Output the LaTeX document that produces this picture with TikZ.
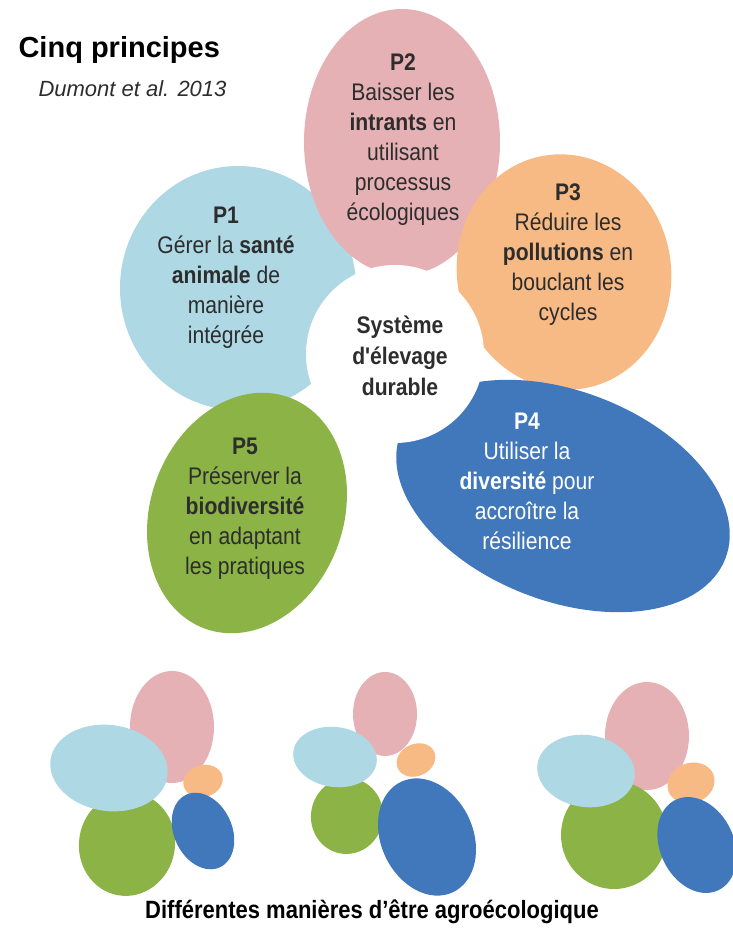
\documentclass[tikz,border=0pt]{standalone}
\usepackage{fontspec}
\setmainfont{Liberation Sans}
\newfontfamily\narrowfont{Liberation Sans}[FakeStretch=0.88]
\usetikzlibrary{shapes.geometric}
\definecolor{petpink}{RGB}{229,177,181}
\definecolor{petsky}{RGB}{173,216,228}
\definecolor{petorange}{RGB}{248,186,133}
\definecolor{petgreen}{RGB}{139,179,70}
\definecolor{petblue}{RGB}{64,120,187}
\definecolor{txtgray}{RGB}{45,45,45}

\begin{document}
\begin{tikzpicture}[
    x=1pt, y=-1pt,
    petal/.style={ellipse, inner sep=0pt, draw=none},
    ptext/.style={align=center, text=txtgray, inner sep=0pt,
      font=\narrowfont\fontsize{24}{30}\selectfont},
  ]

  \useasboundingbox (0,0) rectangle (732,929);

  % --- title ---
  \node[anchor=base west, font=\bfseries\fontsize{29}{34}\selectfont, text=black] (title) at (15,57) {Cinq principes};
  \node[anchor=base west, font=\itshape\fontsize{22}{26}\selectfont, text=txtgray] (ref) at (35,96) {Dumont et al. 2013};

  % --- big flower: petals ---
  \node[petal, fill=petsky, minimum width=236pt, minimum height=244pt] (p1) at (238,288) {};
  \node[petal, fill=petpink, minimum width=196pt, minimum height=266pt] (p2) at (402,142) {};
  \node[petal, fill=petorange, minimum width=214pt, minimum height=236pt, rotate=10] (p3) at (564,272) {};
  \node[petal, fill=petgreen, minimum width=193pt, minimum height=246pt, rotate=-20] (p5) at (247,513) {};
  \node[petal, fill=petblue, minimum width=348pt, minimum height=210pt, rotate=-21] (p4) at (563,496) {};
  \node[circle, fill=white, minimum size=178pt, inner sep=0pt] (core) at (395,354) {};

  % --- big flower: texts ---
  \node[ptext] (t1) at (226,278) {\textbf{P1}\\Gérer la \textbf{santé}\\\textbf{animale} de\\manière\\intégrée};
  \node[ptext] (t2) at (403,140) {\textbf{P2}\\Baisser les\\\textbf{intrants} en\\utilisant\\processus\\écologiques};
  \node[ptext] (t3) at (568,255) {\textbf{P3}\\Réduire les\\\textbf{pollutions} en\\bouclant les\\cycles};
  \node[ptext, text=white] (t4) at (527,481) {\textbf{P4}\\Utiliser la\\\textbf{diversité} pour\\accroître la\\résilience};
  \node[ptext] (t5) at (245,509) {\textbf{P5}\\Préserver la\\\textbf{biodiversité}\\en adaptant\\les pratiques};
  \node[ptext, font=\narrowfont\bfseries\fontsize{24}{31}\selectfont] (tc) at (400,356) {Système\\d'élevage\\durable};

  % --- small flowers ---
  \foreach \n/\c/\x/\y/\w/\h/\a in {
      a2/petpink/172/727/84/112/0, a5/petgreen/127/844/96/104/-10,
      a1/petsky/109/768/118/86/-8, a3/petorange/203/781/40/32/15,
      a4/petblue/203/831/58/80/25,
      b2/petpink/385/714/64/84/0, b5/petgreen/347/816/72/76/-10,
      b1/petsky/335/757/84/60/-8, b3/petorange/416/760/40/32/25,
      b4/petblue/427/837/92/122/25,
      c2/petpink/647/736/84/108/0, c5/petgreen/614/835/106/108/0,
      c1/petsky/586/771/98/72/-8, c3/petorange/691/783/48/40/20,
      c4/petblue/697/845/74/100/25} {
    \node[petal, fill=\c, minimum width=\w pt, minimum height=\h pt, rotate=\a] (\n) at (\x,\y) {};
  }

  % --- caption ---
  \node[font=\narrowfont\bfseries\fontsize{25}{29}\selectfont, text=black] (cap) at (372,912) {Différentes manières d’être agroécologique};

\end{tikzpicture}
\end{document}
